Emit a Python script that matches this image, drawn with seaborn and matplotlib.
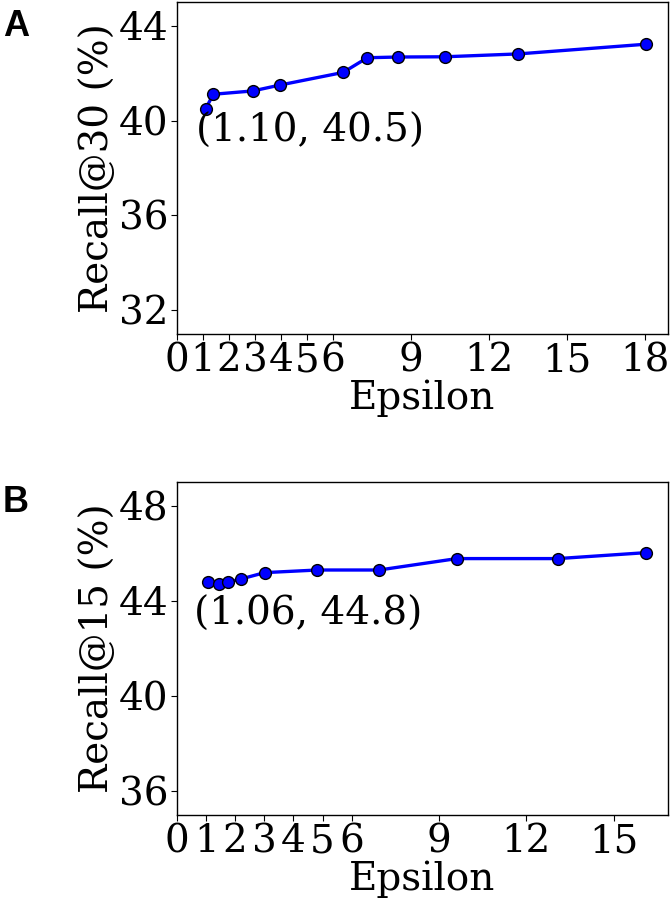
import numpy as np
import pandas as pd
import seaborn as sns
import matplotlib.pyplot as plt

# Panel A: Recall@30 vs epsilon
eps_a = [1.10, 1.40, 2.92, 3.97, 6.39, 7.32, 8.51, 10.30, 13.12, 18.04]
recall30 = [40.5, 41.11, 41.25, 41.50, 42.03, 42.65, 42.68, 42.69, 42.81, 43.22]

# Panel B: Recall@15 vs epsilon
eps_b = [1.06, 1.445, 1.754, 2.19, 3.01, 4.82, 6.94, 9.61, 13.08, 16.11]
recall15 = [44.8, 44.72, 44.79, 44.92, 45.19, 45.30, 45.30, 45.78, 45.78, 46.03]

xticks_a = [0, 1, 2, 3, 4, 5, 6, 9, 12, 15, 18]
xticks_b = [0, 1, 2, 3, 4, 5, 6, 9, 12, 15]
yticks_a = [32, 36, 40, 44]
yticks_b = [36, 40, 44, 48]

sns.set_style("ticks")
plt.rcParams["font.family"] = ["DejaVu Serif"]
plt.rcParams.update({
    "text.color": "black", "axes.labelcolor": "black",
    "xtick.color": "black", "ytick.color": "black",
    "axes.edgecolor": "black",
})

FS = 28

fig = plt.figure(figsize=(6.72, 9.10), dpi=100)
ax_a = fig.add_axes([177 / 672, 1 - 334 / 910, 491 / 672, 332 / 910])
ax_b = fig.add_axes([177 / 672, 1 - 815 / 910, 491 / 672, 333 / 910])

panels = [
    (ax_a, eps_a, recall30, "Recall@30 (%)", xticks_a, yticks_a, (31, 45), (0.75, 39.1), "A", 26),
    (ax_b, eps_b, recall15, "Recall@15 (%)", xticks_b, yticks_b, (35, 49), (0.57, 43.0), "B", 502),
]

for ax, xs, ys, ylab, xt, yt, ylim, txy, letter, ly in panels:
    df = pd.DataFrame({"Epsilon": xs, "Recall": ys})
    sns.lineplot(data=df, x="Epsilon", y="Recall", ax=ax, color="blue",
                 linewidth=2.4, marker="o", markersize=8.5,
                 markerfacecolor="blue", markeredgecolor="black",
                 markeredgewidth=1.0)
    ax.set_xticks(xt)
    ax.set_yticks(yt)
    ax.set_ylim(*ylim)
    ax.set_xlim(0, None)
    ax.set_xlabel("Epsilon", fontsize=FS, labelpad=0)
    ax.set_ylabel(ylab, fontsize=FS, labelpad=2)
    ax.tick_params(labelsize=FS, length=4, pad=2)
    for s in ax.spines.values():
        s.set_visible(True)
        s.set_linewidth(1.0)
    ax.text(txy[0], txy[1], f"({xs[0]:.2f}, {ys[0]:.1f})", fontsize=FS,
            ha="left", va="baseline")
    fig.text(16 / 672, 1 - ly / 910, letter, fontsize=26, fontweight="bold",
             family="Liberation Sans", ha="center", va="center")

fig.savefig("out.png", dpi=100)
